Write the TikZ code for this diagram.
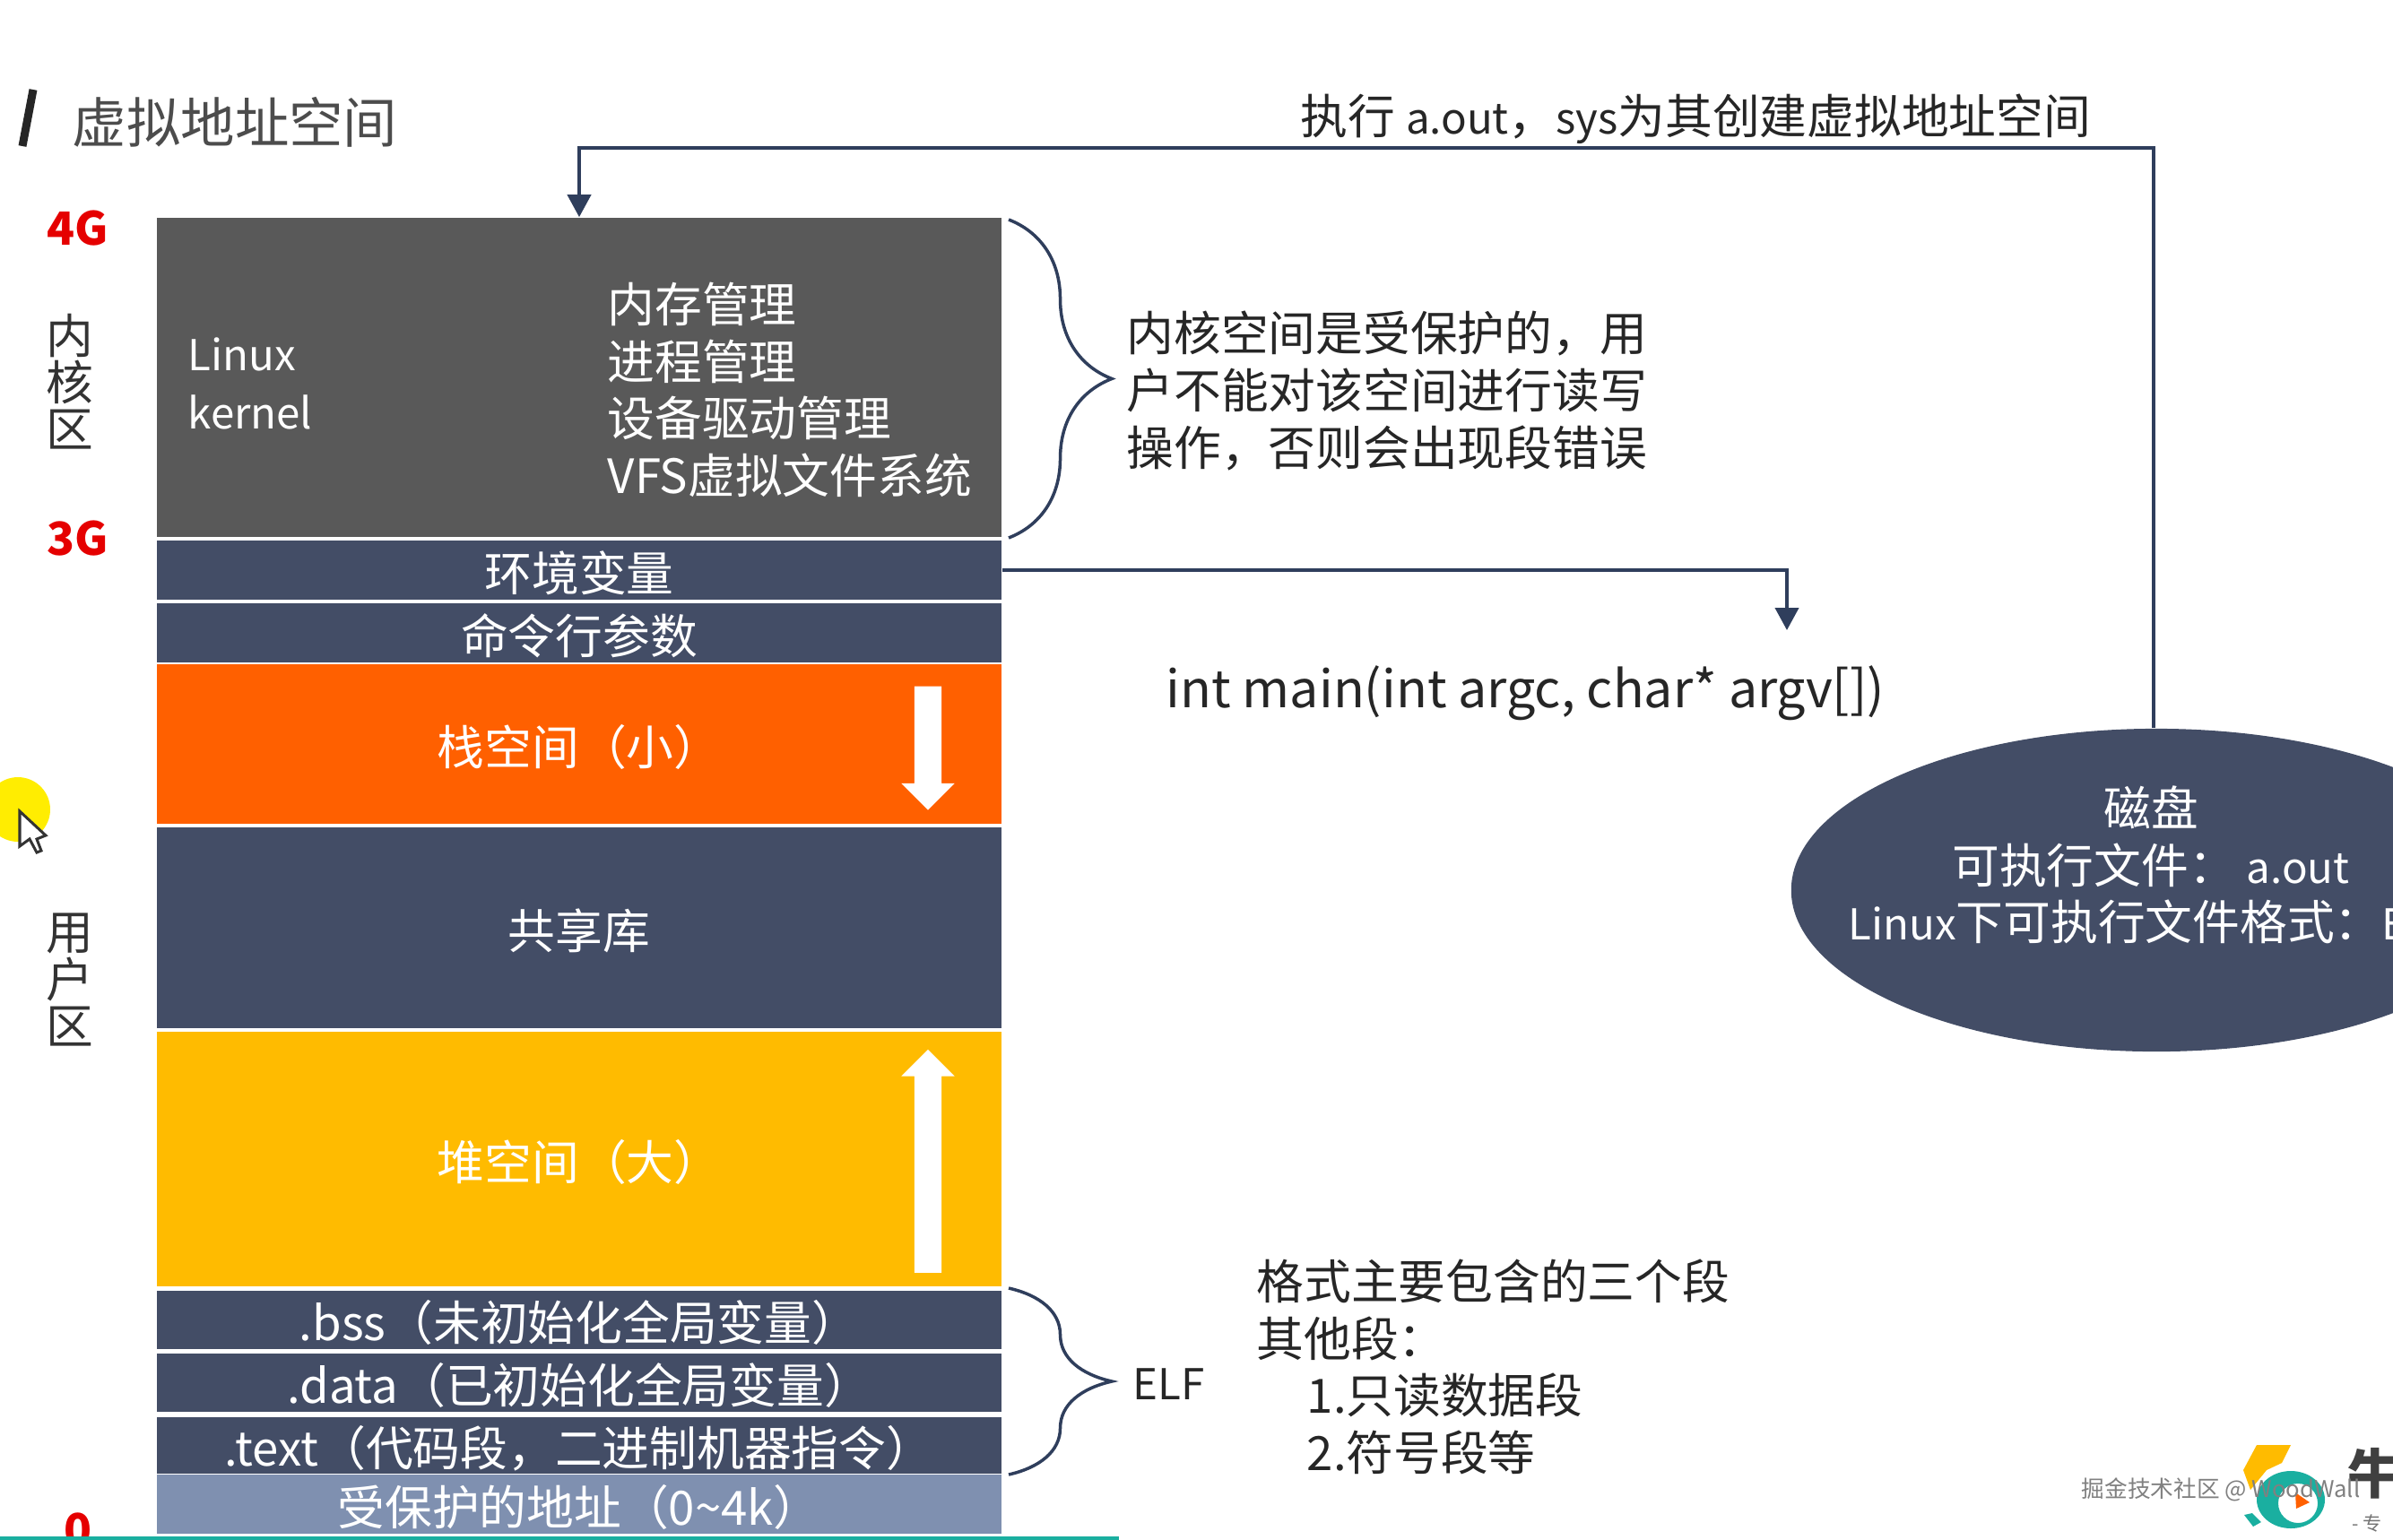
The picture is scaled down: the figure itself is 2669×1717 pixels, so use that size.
\documentclass[tikz,border=0pt]{standalone}
\usepackage{fontspec}
\setmainfont{Noto Sans CJK SC}
\usepackage{xcolor}
\definecolor{grisKernel}{RGB}{89,89,89}
\definecolor{azulSeg}{RGB}{67,77,102}
\definecolor{azulProt}{RGB}{127,144,176}
\definecolor{azulLinea}{RGB}{47,62,92}
\definecolor{naranjaPila}{RGB}{255,96,0}
\definecolor{amarilloHeap}{RGB}{255,187,0}
\definecolor{verdeLogo}{RGB}{26,175,160}
\usetikzlibrary{shapes.geometric, shapes.arrows, arrows.meta, decorations.pathreplacing}

\newcommand{\latin}[1]{{\fontsize{13.5}{18}\selectfont #1}}

\begin{document}
\begin{tikzpicture}[
  x=0.01cm, y=-0.01cm,
  seg/.style={rectangle, draw=none, minimum width=9.42cm, inner sep=0pt,
              text=white, text height=13.2pt, text depth=0pt, font=\fontsize{15}{18}\selectfont},
  etiq/.style={inner sep=0pt, align=left, text=white, font=\fontsize{15}{18.1}\selectfont},
  txt/.style={inner sep=0pt, align=left, text=black!85,
              font=\fontsize{15}{18.1}\selectfont},
  gsize/.style={inner sep=0pt, text=red!90!black, font=\fontsize{14.5}{18}\bfseries\selectfont},
  zona/.style={inner sep=0pt, align=center, text=black!80, font=\fontsize{15}{14.8}\selectfont},
  flecha/.style={single arrow, fill=white, draw=none, inner sep=0.145cm,
                 single arrow head extend=0.145cm, single arrow head indent=0pt},
  arr/.style={-{Triangle[length=0.25cm,width=0.26cm]}, line width=0.04cm, color=azulLinea},
  llave/.style={decorate, decoration={brace, amplitude=1.15cm}, line width=0.035cm, color=azulLinea}
]
  \clip (0,0) rectangle (2669,1717);

  % Titulo
  \draw[line width=0.09cm, color=black!85] (37,100) -- (25,163);
  \node[inner sep=0pt, text=black!70, font=\fontsize{17.2}{20}\selectfont] (titulo) at (262,136) {虚拟地址空间};

  % Cursor
  \fill[yellow!95!orange] (20,903) circle (36);
  \draw[black!80, fill=white, line width=0.03cm] (22,905) -- (22,944) -- (33,936) -- (41,951)
    -- (46,949) -- (41,936) -- (51,932) -- cycle;

  % Bloques (columna central)
  \node[seg, fill=grisKernel, minimum height=3.56cm] (kernel) at (646,421) {};
  \node[seg, fill=azulSeg, minimum height=0.66cm] (env) at (646,636) {环境变量};
  \node[seg, fill=azulSeg, minimum height=0.65cm] (cmd) at (646,706) {命令行参数};
  \node[seg, fill=naranjaPila, minimum height=1.77cm] (stack) at (646,830) {栈空间（小）};
  \node[seg, fill=azulSeg, minimum height=2.23cm] (shared) at (646,1035) {共享库};
  \node[seg, fill=amarilloHeap, minimum height=2.84cm] (heap) at (646,1293) {堆空间（大）};
  \node[seg, fill=azulSeg, minimum height=0.65cm] (bss) at (646,1472) {.bss（未初始化全局变量）};
  \node[seg, fill=azulSeg, minimum height=0.65cm] (data) at (646,1542) {.data（已初始化全局变量）};
  \node[seg, fill=azulSeg, minimum height=0.63cm] (text) at (646,1612) {.text（代码段，二进制机器指令）};
  \node[seg, fill=azulProt, minimum height=0.66cm] (prot) at (646,1678) {受保护的地址（0\textasciitilde 4k）};

  \node[etiq, anchor=west, font=\fontsize{13.5}{18.4}\selectfont] (linux) at (209,428) {Linux\\kernel};
  \node[etiq, anchor=west] (gestion) at (677,435)
    {内存管理\\进程管理\\设备驱动管理\\VFS虚拟文件系统};

  \node[flecha, minimum height=1.38cm, rotate=-90] (stackarr) at (1035,827) {};
  \node[flecha, minimum height=2.49cm, rotate=90] (heaparr) at (1035,1303) {};

  % Marcas a la izquierda
  \node[gsize] (g4) at (87,255) {4G};
  \node[gsize] (g3) at (87,601) {3G};
  \node[gsize] (g0) at (87,1707) {0};
  \node[zona] (zkernel) at (78,426) {内\\核\\区};
  \node[zona] (zuser) at (78,1093) {用\\户\\区};

  % Llaves
  \draw[llave] (1125,245) -- (1125,600) coordinate[midway] (kbrace);
  \draw[llave] (1125,1437) -- (1125,1645) coordinate[midway] (ebrace);

  % Textos de la derecha
  \node[txt, anchor=west] (nota) at (1256,436) {内核空间是受保护的，用\\户不能对该空间进行读写\\操作，否则会出现段错误};
  \node[txt, anchor=west, font=\fontsize{13.5}{18}\selectfont] (elf) at (1263,1544) {ELF};
  \node[txt, anchor=west] (formato) at (1401,1525) {格式主要包含的三个段\\其他段：\\\hspace*{0.56cm}1.只读数据段\\\hspace*{0.56cm}2.符号段等};
  \node[txt, anchor=west] (ejec) at (1450,133) {执行 \latin{a.out}，\latin{sys}为其创建虚拟地址空间};
  \node[txt, anchor=west, font=\fontsize{16.3}{20}\selectfont] (main) at (1300,773) {int main(int argc, char* argv[])};

  % Disco
  \node[ellipse, fill=azulSeg, draw=none, inner sep=0pt, minimum width=8.14cm, minimum height=3.6cm] (disk) at (2405,993) {};
  \node[etiq, align=center] (disktxt) at (2399,965)
    {磁盘\\可执行文件： \latin{a.out}\\\latin{Linux}下可执行文件格式：\latin{ELF}};

  % Conexiones
  \coordinate (esquina) at (2402,165);
  \coordinate (argv) at (1993,703);
  \draw[arr] (disk.north -| esquina) -- (esquina) -| (kernel.north);
  \draw[arr] (env.east) -| (argv);

  % Linea inferior
  \coordinate (lineaA) at (0,1716);
  \coordinate (lineaB) at (1248,1716);
  \draw[line width=0.05cm, color=verdeLogo] (lineaA) -- (lineaB);

  % Logo
  \fill[amarilloHeap] (2517,1612) -- (2555,1612) -- (2545,1632) -- (2528,1640) -- (2510,1662) -- (2502,1640) -- cycle;
  \fill[verdeLogo, even odd rule] (2555,1673) ellipse (38 and 32) (2563,1677) circle (22);
  \fill[naranjaPila] (2560,1665) -- (2576,1676) -- (2561,1683) -- cycle;
  \fill[verdeLogo] (2503,1690) -- (2512,1688) -- (2522,1698) -- (2513,1703) -- cycle;
  \node[inner sep=0pt, text=black!75, font=\fontsize{17}{20}\bfseries\selectfont] (niu) at (2648,1644) {牛};
  \node[inner sep=0pt, text=black!55, font=\fontsize{6}{8}\selectfont] (zhuan) at (2640,1699) {- 专};
  \node[inner sep=0pt, text=black!50, font=\fontsize{7.3}{9}\selectfont] (marca) at (2477,1662) {掘金技术社区 @ WoodWall};
\end{tikzpicture}
\end{document}
